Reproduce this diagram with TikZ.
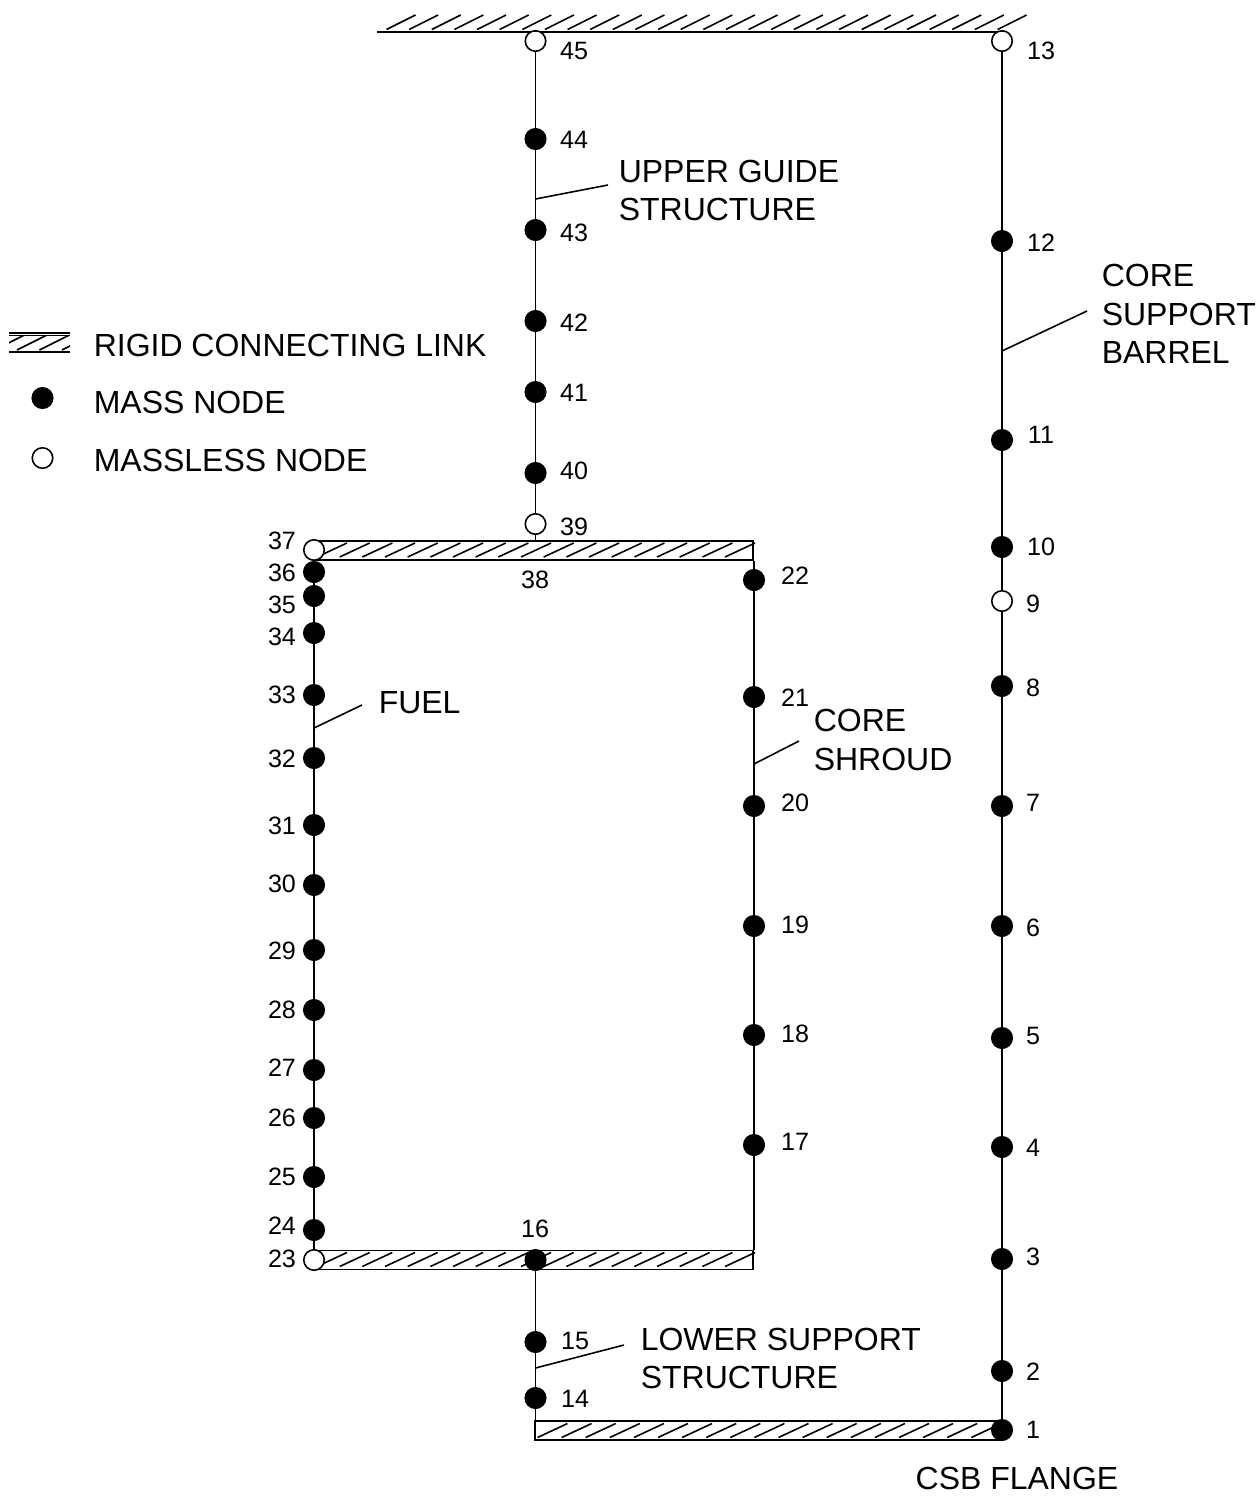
\documentclass[tikz,border=0pt]{standalone}
\usepackage{fontspec}
\setmainfont{Liberation Sans}
\usetikzlibrary{calc}

\tikzset{
 mass/.style={circle,fill=black,draw=black,inner sep=0pt,minimum size=.41cm},
 massless/.style={circle,fill=white,draw=black,line width=.9pt,inner sep=0pt,minimum size=.41cm},
 num/.style={inner sep=0pt,font=\fontsize{14.3}{16}\selectfont},
 caption/.style={inner sep=0pt,anchor=west,align=left,font=\fontsize{18.2}{21.9}\selectfont},
 rigid/.style={draw=black,line width=1pt,inner sep=0pt,minimum height=.38cm},
}

\begin{document}
\begin{tikzpicture}[x=.02cm,y=-.02cm,line width=.9pt]
 \useasboundingbox (0,0) rectangle (1257,1501);
 % ground
 \coordinate (gndl) at (377,32);
 \coordinate (gndr) at (1002,32);
 \draw[line width=1.1pt] (gndl)--(gndr);
 \foreach \k in {0,...,27} \draw (386.5+22.63*\k,29.5)--++(29,-14.5);
 % rigid links
 \node[rigid,minimum width=8.78cm] (toplink) at (533.5,550.5){};
 \node[rigid,minimum width=8.78cm] (botlink) at (533.5,1260){};
 \node[rigid,minimum width=9.34cm] (flange) at (768.5,1430.5){};
 \foreach \k in {0,...,18} \draw (317+22.67*\k,557)--++(30,-14);
 \foreach \k in {0,...,18} \draw (317+22.67*\k,1266.5)--++(30,-14);
 \foreach \k in {0,...,18} \draw (537.5+24.1*\k,1437.5)--++(30,-14);
 % core support barrel
 \node[massless] (n13) at (1002,41){};
 \node[mass] (n12) at (1002,241){};
 \node[mass] (n11) at (1002,440){};
 \node[mass] (n10) at (1002,547){};
 \node[massless] (n9) at (1002,601){};
 \node[mass] (n8) at (1002,686){};
 \node[mass] (n7) at (1002,806){};
 \node[mass] (n6) at (1002,926){};
 \node[mass] (n5) at (1002,1038){};
 \node[mass] (n4) at (1002,1147){};
 \node[mass] (n3) at (1002,1259){};
 \node[mass] (n2) at (1002,1371){};
 \node[mass] (n1) at (1002,1430){};
 % upper guide structure
 \node[massless] (n45) at (535.5,41){};
 \node[mass] (n44) at (535.5,139){};
 \node[mass] (n43) at (535.5,230){};
 \node[mass] (n42) at (535.5,321){};
 \node[mass] (n41) at (535.5,392){};
 \node[mass] (n40) at (535.5,473){};
 \node[massless] (n39) at (535.5,524){};
 % fuel
 \node[massless] (n37) at (314,550){};
 \node[mass] (n36) at (314,572){};
 \node[mass] (n35) at (314,596){};
 \node[mass] (n34) at (314,633){};
 \node[mass] (n33) at (314,695){};
 \node[mass] (n32) at (314,758){};
 \node[mass] (n31) at (314,825){};
 \node[mass] (n30) at (314,885){};
 \node[mass] (n29) at (314,950){};
 \node[mass] (n28) at (314,1010){};
 \node[mass] (n27) at (314,1070){};
 \node[mass] (n26) at (314,1118){};
 \node[mass] (n25) at (314,1177){};
 \node[mass] (n24) at (314,1230){};
 \node[massless] (n23) at (314,1260){};
 % core shroud
 \node[mass] (n22) at (754,580){};
 \node[mass] (n21) at (754,697){};
 \node[mass] (n20) at (754,806){};
 \node[mass] (n19) at (754,926){};
 \node[mass] (n18) at (754,1035){};
 \node[mass] (n17) at (754,1145){};
 % lower support structure
 \node[mass] (n16) at (535.5,1260){};
 \node[mass] (n15) at (535.5,1342){};
 \node[mass] (n14) at (535.5,1398){};
 % beams
 \draw (n13)--(n12)--(n11)--(n10)--(n9)--(n8)--(n7)--(n6)--(n5)--(n4)--(n3)--(n2)--(n1);
 \draw (n13)--(n13|-gndr);
 \draw (n45)--(n44)--(n43)--(n42)--(n41)--(n40)--(n39)--(n39|-toplink.north);
 \draw (n45)--(n45|-gndr);
 \draw (n37)--(n36)--(n35)--(n34)--(n33)--(n32)--(n31)--(n30)--(n29)--(n28)--(n27)--(n26)--(n25)--(n24)--(n23);
 \draw (n22|-toplink.south)--(n22)--(n21)--(n20)--(n19)--(n18)--(n17)--(n17|-botlink.north);
 \draw (n16)--(n15)--(n14)--(n14|-flange.north);
 % node numbers
 \node[num] (t1) at (1033,1430){1};
 \node[num] (t2) at (1033,1372){2};
 \node[num] (t3) at (1033,1257){3};
 \node[num] (t4) at (1033,1148){4};
 \node[num] (t5) at (1033,1036){5};
 \node[num] (t6) at (1033,928){6};
 \node[num] (t7) at (1033,803){7};
 \node[num] (t8) at (1033,688){8};
 \node[num] (t9) at (1033,604){9};
 \node[num] (t10) at (1041,547){10};
 \node[num] (t11) at (1041,435){11};
 \node[num] (t12) at (1041,243){12};
 \node[num] (t13) at (1041,51){13};
 \node[num] (t14) at (575,1399){14};
 \node[num] (t15) at (575,1341){15};
 \node[num] (t16) at (535,1229){16};
 \node[num] (t17) at (795,1142){17};
 \node[num] (t18) at (795,1034){18};
 \node[num] (t19) at (795,925){19};
 \node[num] (t20) at (795,803){20};
 \node[num] (t21) at (795,698){21};
 \node[num] (t22) at (795,576){22};
 \node[num] (t23) at (282,1259){23};
 \node[num] (t24) at (282,1226){24};
 \node[num] (t25) at (282,1177){25};
 \node[num] (t26) at (282,1118){26};
 \node[num] (t27) at (282,1068){27};
 \node[num] (t28) at (282,1010){28};
 \node[num] (t29) at (282,951){29};
 \node[num] (t30) at (282,884){30};
 \node[num] (t31) at (282,826){31};
 \node[num] (t32) at (282,759){32};
 \node[num] (t33) at (282,695){33};
 \node[num] (t34) at (282,637){34};
 \node[num] (t35) at (282,605){35};
 \node[num] (t36) at (282,573){36};
 \node[num] (t37) at (282,541){37};
 \node[num] (t38) at (535,580){38};
 \node[num] (t39) at (574,527){39};
 \node[num] (t40) at (574,471){40};
 \node[num] (t41) at (574,393){41};
 \node[num] (t42) at (574,323){42};
 \node[num] (t43) at (574,233){43};
 \node[num] (t44) at (574,140){44};
 \node[num] (t45) at (574,51){45};
 % captions and leaders
 \node[caption] (upperguide) at (618,190.5){UPPER GUIDE\\STRUCTURE};
 \node[caption] (barrel) at (1101,314){CORE\\SUPPORT\\BARREL};
 \node[caption] (fuel) at (378,703){FUEL};
 \node[caption] (shroud) at (813,740){CORE\\SHROUD};
 \node[caption] (lower) at (640,1358.5){LOWER SUPPORT\\STRUCTURE};
 \node[caption,anchor=center] (csb) at (1017,1478){CSB FLANGE};
 \coordinate (upperend) at (608,185);
 \coordinate (barrelend) at (1087,311);
 \coordinate (fuelend) at (362,705);
 \coordinate (shroudend) at (799,741);
 \coordinate (lowerend) at (624,1345);
 \draw (upperend)--(535.5,199);
 \draw (barrelend)--(1002,351);
 \draw (fuelend)--(314,728);
 \draw (shroudend)--(754,764);
 \draw (lowerend)--(535.5,1368);
 % legend
 \draw (9,333)--(70,333);
 \draw (9,335.5)--(70,335.5);
 \draw[line width=1.1pt] (9,352)--(70,352);
 \begin{scope}
  \clip (9,335)rectangle(70,351);
  \foreach \k in {-1,...,2} \draw (17+22.5*\k,350)--++(30,-15);
 \end{scope}
 \node[mass] (legmass) at (42.5,398){};
 \node[massless] (legless) at (42.5,458){};
 \node[caption] (legtxta) at (93,345){RIGID CONNECTING LINK};
 \node[caption] (legtxtb) at (93,402){MASS NODE};
 \node[caption] (legtxtc) at (93,460){MASSLESS NODE};
\end{tikzpicture}
\end{document}
